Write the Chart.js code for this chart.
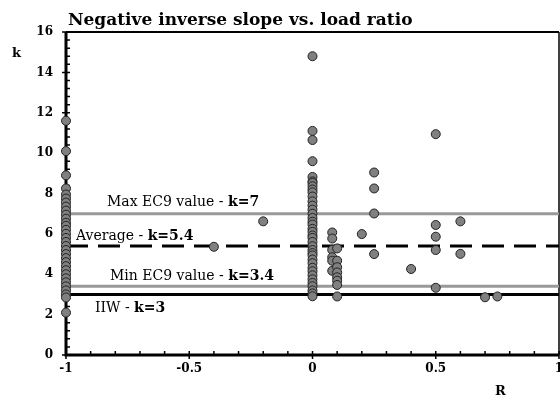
<!DOCTYPE html>
<html lang="en">
<head>
    <meta charset="UTF-8">
    <title>Negative inverse slope vs. load ratio</title>
    <style>
        body { margin: 0; background: #fff; }
        #slopeChart { display: block; }
    </style>
</head>
<body>

    <canvas id="slopeChart" width="560" height="397"></canvas>

    <script src="https://cdn.jsdelivr.net/npm/chart.js"></script>
    <script>
        // k values, one list per load ratio R
        var kAtMinusOne = [11.6, 10.1, 8.9, 8.25, 7.95, 7.75, 7.55, 7.35, 7.15, 6.95, 6.75, 6.55, 6.4, 6.2,
            6.0, 5.8, 5.6, 5.4, 5.2, 5.0, 4.8, 4.6, 4.4, 4.2, 4.0, 3.8, 3.6, 3.4, 3.2, 3.0, 2.85, 2.1];
        var kAtZero = [14.8, 11.1, 10.65, 9.6, 8.82, 8.6, 8.52, 8.36, 8.2, 8.06, 7.85, 7.61, 7.4, 7.2, 7.0,
            6.79, 6.6, 6.46, 6.25, 6.1, 5.92, 5.8, 5.6, 5.39, 5.2, 5.05, 4.93, 4.73, 4.55, 4.32, 4.15,
            3.95, 3.75, 3.57, 3.41, 3.2, 3.05, 2.91];
        var kAtZeroEight = [6.07, 5.77, 5.21, 4.84, 4.67, 4.17];
        var kAtZeroOne = [5.28, 4.67, 4.35, 4.09, 3.85, 3.68, 3.47, 2.9];
        var otherR = [-0.4, -0.2, 0.2, 0.25, 0.25, 0.25, 0.25, 0.4, 0.5, 0.5, 0.5, 0.5, 0.5, 0.6, 0.6, 0.7, 0.75];
        var otherK = [5.36, 6.62, 5.99, 9.04, 8.25, 7.01, 5.0, 4.26, 10.94, 6.44, 5.86, 5.2, 3.33, 6.62, 5.01, 2.86, 2.9];

        // reference levels
        var limitNames = ['Max EC9 value - ', 'Average - ', 'Min EC9 value - ', 'IIW - '];
        var limitK = [7, 5.4, 3.4, 3];

        var xTickLabels = ['-1', '-0.5', '0', '0.5', '1'];
        var yTickLabels = ['0', '2', '4', '6', '8', '10', '12', '14', '16'];

        var serif = 'DejaVu Serif';
        Chart.defaults.font.family = serif;
        Chart.defaults.color = '#000';

        function column(r, ks) {
            return ks.map(function (k) { return { x: r, y: k }; });
        }

        var points = []
            .concat(column(-1, kAtMinusOne))
            .concat(column(0, kAtZero))
            .concat(column(0.08, kAtZeroEight))
            .concat(column(0.1, kAtZeroOne))
            .concat(otherR.map(function (r, i) { return { x: r, y: otherK[i] }; }));

        var lineStyles = [
            { color: '#999999', dash: [] },
            { color: '#000000', dash: [22, 10] },
            { color: '#999999', dash: [] },
            { color: '#000000', dash: [] }
        ];

        var datasets = [{
            data: points,
            backgroundColor: '#808080',
            borderColor: '#222',
            borderWidth: 1,
            pointRadius: 4.5,
            clip: false,
            order: 0
        }];
        limitK.forEach(function (k, i) {
            datasets.push({
                type: 'line',
                data: [{ x: -1, y: k }, { x: 1, y: k }],
                borderColor: lineStyles[i].color,
                borderDash: lineStyles[i].dash,
                borderWidth: 3,
                pointRadius: 0,
                order: 1
            });
        });

        // frame, ticks and text the way the spreadsheet chart has them
        var framePlugin = {
            id: 'framePlugin',
            beforeDatasetsDraw: function (chart) {
                var ctx = chart.ctx, a = chart.chartArea, x = chart.scales.x, y = chart.scales.y;
                ctx.save();
                ctx.strokeStyle = '#000';
                ctx.lineWidth = 2;
                ctx.beginPath(); ctx.moveTo(a.left, a.top); ctx.lineTo(a.right, a.top); ctx.stroke();
                ctx.lineWidth = 1.5;
                ctx.beginPath(); ctx.moveTo(a.right, a.top); ctx.lineTo(a.right, a.bottom); ctx.stroke();

                ctx.lineWidth = 1.5;
                ctx.beginPath();
                for (var i = 0; i <= 40; i++) {
                    var py = y.getPixelForValue(i * 0.4);
                    ctx.moveTo(a.left, py); ctx.lineTo(a.left + 4, py);
                }
                for (var j = 0; j <= 8; j++) {
                    var py2 = y.getPixelForValue(j * 2);
                    ctx.moveTo(a.left - 4, py2); ctx.lineTo(a.left, py2);
                }
                for (var m = 0; m <= 20; m++) {
                    var px = x.getPixelForValue(-1 + m * 0.1);
                    ctx.moveTo(px, a.bottom); ctx.lineTo(px, a.bottom - 4);
                }
                for (var n = 0; n <= 4; n++) {
                    var px2 = x.getPixelForValue(-1 + n * 0.5);
                    ctx.moveTo(px2, a.bottom + 4); ctx.lineTo(px2, a.bottom - 4);
                }
                ctx.stroke();

                ctx.lineWidth = 3;
                ctx.beginPath();
                ctx.moveTo(a.left, a.top); ctx.lineTo(a.left, a.bottom + 1.5);
                ctx.moveTo(a.left - 1.5, a.bottom); ctx.lineTo(a.right, a.bottom);
                ctx.stroke();
                ctx.restore();
            },
            afterDatasetsDraw: function (chart) {
                var ctx = chart.ctx, a = chart.chartArea, y = chart.scales.y;
                var textX = [41, 10, 44, 29];
                var textDy = [-8, -6, -6, 18];
                ctx.save();
                ctx.fillStyle = '#000';
                ctx.textBaseline = 'alphabetic';
                limitK.forEach(function (k, i) {
                    var px = a.left + textX[i];
                    var py = y.getPixelForValue(k) + textDy[i];
                    ctx.font = '14px "' + serif + '"';
                    ctx.fillText(limitNames[i], px, py);
                    var w = ctx.measureText(limitNames[i]).width;
                    ctx.font = 'bold 14px "' + serif + '"';
                    ctx.fillText('k=' + k, px + w, py);
                });
                ctx.restore();
            },
            afterDraw: function (chart) {
                var ctx = chart.ctx, a = chart.chartArea;
                ctx.save();
                ctx.fillStyle = '#000';
                ctx.textBaseline = 'alphabetic';
                ctx.font = 'bold 17px "' + serif + '"';
                ctx.fillText('Negative inverse slope vs. load ratio', a.left + 2, 25);
                ctx.font = 'bold 13px "' + serif + '"';
                ctx.fillText('k', 12, 57);
                ctx.fillText('R', 495, 395);
                ctx.restore();
            }
        };

        new Chart(document.getElementById('slopeChart'), {
            type: 'scatter',
            data: { datasets: datasets },
            plugins: [framePlugin],
            options: {
                responsive: false,
                animation: false,
                layout: { autoPadding: false, padding: { top: 32, right: 1, left: 0, bottom: 0 } },
                plugins: {
                    legend: { display: false },
                    tooltip: { enabled: false }
                },
                scales: {
                    x: {
                        type: 'linear',
                        min: -1,
                        max: 1,
                        border: { display: false },
                        grid: { display: false, drawTicks: false },
                        ticks: {
                            stepSize: 0.5,
                            padding: 7,
                            maxRotation: 0,
                            font: { size: 12, weight: 'bold' },
                            callback: function (v, i) { return xTickLabels[i]; }
                        },
                        afterFit: function (s) {
                            s.height = 42;
                            s.paddingLeft = 0;
                            s.paddingRight = 0;
                        }
                    },
                    y: {
                        min: 0,
                        max: 16,
                        border: { display: false },
                        grid: { display: false, drawTicks: false },
                        ticks: {
                            stepSize: 2,
                            padding: 13,
                            font: { size: 12, weight: 'bold' },
                            callback: function (v, i) { return yTickLabels[i]; }
                        },
                        afterFit: function (s) {
                            s.width = 66;
                            s.paddingTop = 0;
                            s.paddingBottom = 0;
                        }
                    }
                }
            }
        });
    </script>

</body>
</html>
